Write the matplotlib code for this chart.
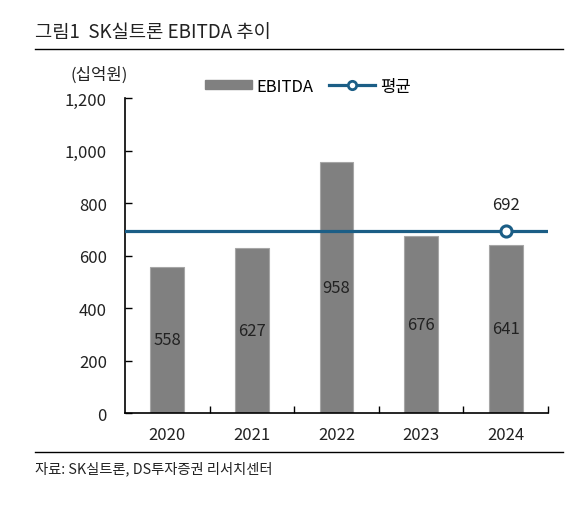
import matplotlib.pyplot as plt
from matplotlib.lines import Line2D
from matplotlib.patches import Patch

plt.rcParams['font.family'] = ['Noto Sans CJK KR', 'DejaVu Sans']

years = ['2020', '2021', '2022', '2023', '2024']
ebitda = [558, 627, 958, 676, 641]
avg = 692
yticks = [0, 200, 400, 600, 800, 1000, 1200]

bar_color = '#808080'
line_color = '#1b5e86'
txt = '#222222'

fig = plt.figure(figsize=(5.68, 5.06), dpi=100)
ax = fig.add_axes([0.2201, 0.1818, 0.7447, 0.6225])

x = list(range(len(years)))
ax.bar(x, ebitda, width=0.4, color=bar_color, edgecolor='#a6a6a6', linewidth=0.8, zorder=2)
for xi, v in zip(x, ebitda):
    ax.text(xi, v / 2, str(v), ha='center', va='center', fontsize=12, color=txt, zorder=3)

ax.axhline(avg, color=line_color, lw=2.3, zorder=3)
ax.plot([x[-1]], [avg], marker='o', ms=8, mfc='white', mec=line_color, mew=2.2, zorder=4)
ax.annotate(str(avg), (x[-1], avg), xytext=(0, 13), textcoords='offset points',
            ha='center', va='bottom', fontsize=12, color=txt)

ax.set_xlim(-0.5, len(years) - 0.5)
ax.set_ylim(0, 1200)
ax.set_yticks(yticks)
ax.set_yticklabels([f'{t:,}' for t in yticks])
ax.set_xticks(x)
ax.set_xticklabels(years)
ax.set_xticks([i + 0.5 for i in range(len(years))], minor=True)
ax.tick_params(axis='x', which='major', length=0, pad=9, labelsize=12, labelcolor=txt)
ax.tick_params(axis='x', which='minor', direction='in', length=5, width=1, color='black')
ax.tick_params(axis='y', direction='in', length=5, width=1, pad=13, labelsize=12, labelcolor=txt)
for s in ['top', 'right']:
    ax.spines[s].set_visible(False)
for s in ['left', 'bottom']:
    ax.spines[s].set_linewidth(1.2)

handles = [Patch(color=bar_color, label='EBITDA'),
           Line2D([0], [0], color=line_color, lw=2.3, marker='o', ms=6, mfc='white',
                  mec=line_color, mew=2, label='평균')]
fig.legend(handles=handles, loc='center left', bbox_to_anchor=(0.349, 0.828), ncol=2,
           frameon=False, fontsize=12, handlelength=2.8, handleheight=0.5,
           handletextpad=0.3, columnspacing=0.9, borderaxespad=0)

fig.text(0.0616, 0.935, '그림1  SK실트론 EBITDA 추이', fontsize=13.5, va='center', color=txt)
fig.add_artist(Line2D([0.0616, 0.9912], [0.9012, 0.9012], color='black', lw=1))
fig.add_artist(Line2D([0.0616, 0.9912], [0.1047, 0.1047], color='black', lw=1))
fig.text(0.0616, 0.073, '자료: SK실트론, DS투자증권 리서치센터', fontsize=10.3, va='center', color=txt)
fig.text(0.175, 0.852, '(십억원)', fontsize=12, ha='center', va='center', color=txt)

fig.savefig('out.png', dpi=100)
